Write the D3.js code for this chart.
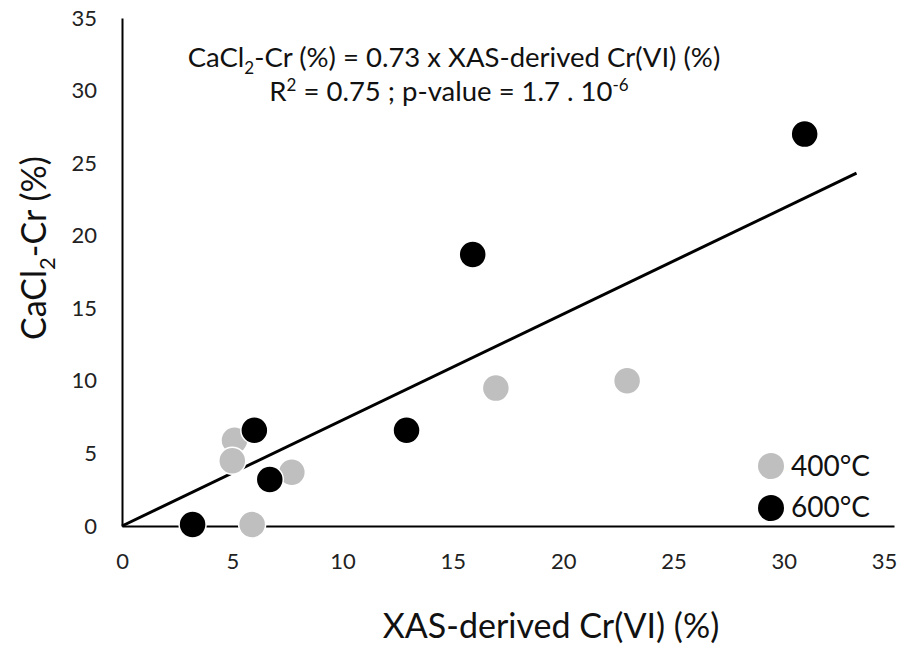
<!DOCTYPE html>
<html><head><meta charset="utf-8">
<script src="https://cdn.jsdelivr.net/npm/d3@7"></script>
<style>body{margin:0;background:#fff}svg{display:block;font-family:Lato,"Open Sans",sans-serif}</style>
</head><body><svg id="c" width="911" height="646"></svg>
<script>
const xTicks = [0,5,10,15,20,25,30,35];
const yTicks = [0,5,10,15,20,25,30,35];
const series = ["400°C","600°C"];
const colors = ["#bfbfbf","#000000"];
const x400 = [5.1,5.0,7.7,5.9,16.95,22.9];
const y400 = [5.9,4.5,3.7,0.1,9.5,10.0];
const x600 = [3.2,6.0,6.7,12.9,15.9,30.95];
const y600 = [0.1,6.6,3.2,6.6,18.7,27.0];
const slope = 0.73;
const trendX = [0,33.3];

const svg = d3.select("#c");
const x = d3.scaleLinear().domain([0,35]).range([122,894]);
const y = d3.scaleLinear().domain([0,35]).range([526,18]);

// axes
const xa = svg.append("g").attr("transform","translate(0,526)")
  .call(d3.axisBottom(x).tickValues(xTicks).tickSize(0).tickPadding(27).tickFormat(d3.format("d")));
const ya = svg.append("g").attr("transform","translate(122,0)")
  .call(d3.axisLeft(y).tickValues(yTicks).tickSize(0).tickPadding(25).tickFormat(d3.format("d")));
[xa,ya].forEach(a=>{
  a.select(".domain").attr("stroke","#000").attr("stroke-width",2);
  a.selectAll("text").attr("font-size",22).attr("fill","#222").attr("font-family","Lato,'Open Sans',sans-serif");
});
xa.selectAll(".tick text").filter(d=>d===35).attr("dx",-10);

// trendline
svg.append("line")
  .attr("x1",x(trendX[0])).attr("y1",y(slope*trendX[0]))
  .attr("x2",x(trendX[1])).attr("y2",y(slope*trendX[1]))
  .attr("stroke","#000").attr("stroke-width",3);

// points
const data = [
  x400.map((v,i)=>({x:v,y:y400[i],s:0})),
  x600.map((v,i)=>({x:v,y:y600[i],s:1}))
];
data.forEach(arr=>{
  svg.append("g").selectAll("circle").data(arr).join("circle")
    .attr("cx",d=>x(d.x)).attr("cy",d=>y(d.y)).attr("r",13.5)
    .attr("fill",d=>colors[d.s]).attr("stroke","#fff").attr("stroke-width",1.5);
});

// legend
const lg = svg.append("g");
series.forEach((s,i)=>{
  lg.append("circle").attr("cx",771).attr("cy",466+i*42).attr("r",13).attr("fill",colors[i]);
  lg.append("text").attr("x",791).attr("y",476+i*41).attr("font-size",28).attr("fill","#111").text(s);
});

// annotation
const t1 = svg.append("text").attr("x",454).attr("y",67).attr("text-anchor","middle").attr("font-size",27.5).attr("fill","#111");
t1.append("tspan").text("CaCl");
t1.append("tspan").attr("font-size",17).attr("dy",7).text("2");
t1.append("tspan").attr("dy",-7).text("-Cr (%) = 0.73 x XAS-derived Cr(VI) (%)");
const t2 = svg.append("text").attr("x",449).attr("y",101).attr("text-anchor","middle").attr("font-size",27.5).attr("fill","#111");
t2.append("tspan").text("R");
t2.append("tspan").attr("font-size",17).attr("dy",-10).text("2");
t2.append("tspan").attr("dy",10).text(" = 0.75 ; p-value = 1.7 . 10");
t2.append("tspan").attr("font-size",17).attr("dy",-10).text("-6");

// axis titles
svg.append("text").attr("x",551).attr("y",638).attr("text-anchor","middle").attr("font-size",34).attr("fill","#111").text("XAS-derived Cr(VI) (%)");
const yt = svg.append("text").attr("transform","translate(46,248) rotate(-90)").attr("text-anchor","middle").attr("font-size",34).attr("fill","#111");
yt.append("tspan").text("CaCl");
yt.append("tspan").attr("font-size",22).attr("dy",9).text("2");
yt.append("tspan").attr("dy",-9).text("-Cr (%)");
</script></body></html>
